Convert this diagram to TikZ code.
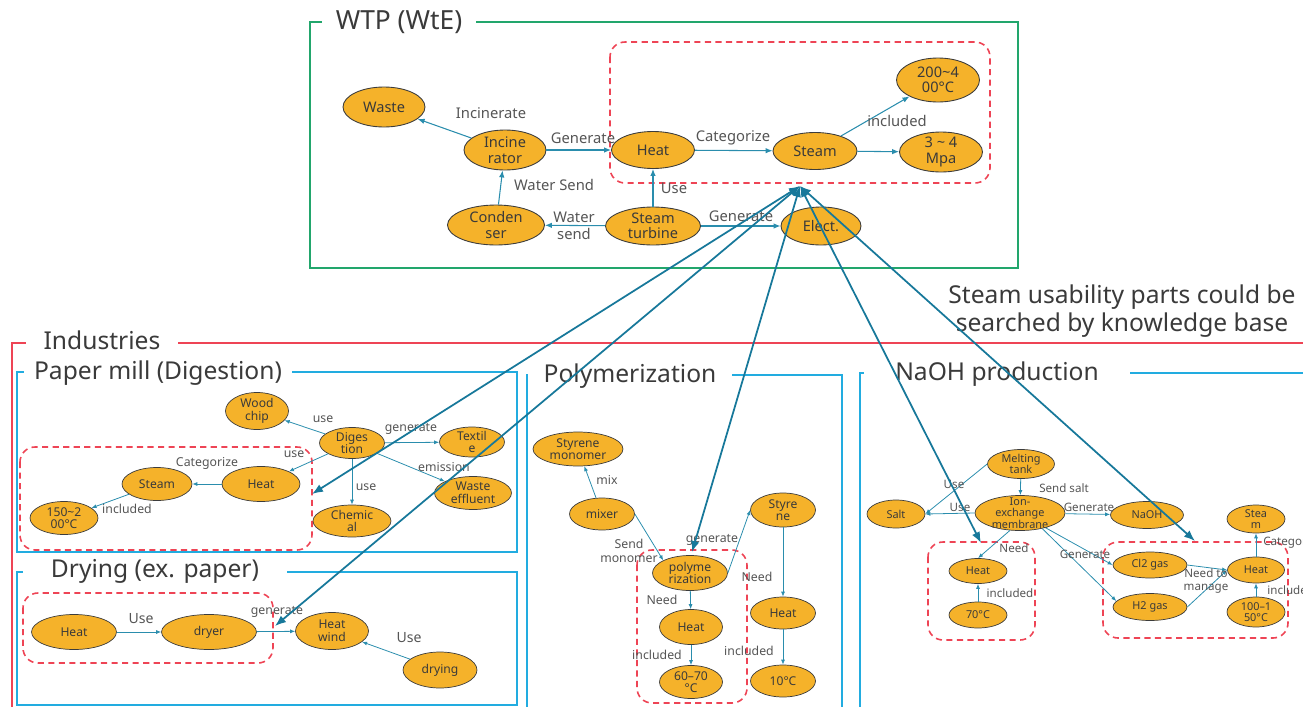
\documentclass[tikz,border=0pt]{standalone}
\usepackage{fontspec}
\setmainfont{Noto Sans}
\usetikzlibrary{arrows.meta,positioning,shapes.geometric}
\definecolor{Amber}{HTML}{F5B22A}
\definecolor{Rim}{HTML}{3C3C3C}
\definecolor{Teal}{HTML}{2A8DAD}
\definecolor{DeepTeal}{HTML}{17789A}
\definecolor{Leaf}{HTML}{22A66C}
\definecolor{Scarlet}{HTML}{EE4455}
\definecolor{Sky}{HTML}{22ACE0}
\definecolor{Ink}{HTML}{3A3A3A}
\definecolor{Mute}{HTML}{555555}

\begin{document}
\begin{tikzpicture}[x=0.02cm,y=-0.02cm,
  ent/.style={ellipse,draw=Rim,line width=0.5pt,fill=Amber,text=Ink,align=center,
    inner sep=-1pt,font=\fontsize{8.3}{8.8}\selectfont},
  sent/.style={ent,font=\fontsize{6.9}{7.2}\selectfont,line width=0.4pt,inner sep=-1.5pt},
  nent/.style={sent,font=\fontsize{6.2}{6.6}\selectfont},
  sz/.style 2 args={minimum width=#1,minimum height=#2},
  lbl/.style={font=\fontsize{8.4}{9.4}\selectfont,text=Mute,align=center,inner sep=0pt},
  slbl/.style={lbl,font=\fontsize{7}{7.6}\selectfont},
  nlbl/.style={lbl,font=\fontsize{6.6}{7.2}\selectfont},
  ttl/.style={font=\fontsize{14}{16}\selectfont,text=Ink,fill=white,inner ysep=2pt},
  arr/.style={-{Latex[length=1.4mm,width=1.1mm]},draw=Teal,line width=0.6pt},
  sarr/.style={-{Latex[length=1mm,width=0.8mm]},draw=Teal,line width=0.45pt},
  link/.style={{Latex[length=2.2mm,width=1.7mm]}-{Latex[length=2.2mm,width=1.7mm]},
    draw=DeepTeal,line width=1pt},
  zone/.style={draw=Scarlet,line width=0.9pt,dash pattern=on 3.5pt off 2.5pt,rounded corners=3mm},
  gframe/.style={draw=Leaf,line width=1.2pt},
  rframe/.style={draw=Scarlet,line width=1.1pt},
  bframe/.style={draw=Sky,line width=1.2pt}
]
  \useasboundingbox (0,0) rectangle (1303,707);

  % frames
  \draw[gframe] (310,22) rectangle (1018,268);
  \draw[rframe] (12,715) |- (1310,343);
  \draw[bframe] (17,372) rectangle (517,552);
  \draw[bframe] (17,572) rectangle (517,705);
  \draw[bframe] (527,375) rectangle (842,715);
  \draw[bframe] (860,373) rectangle (1315,715);

  % frame titles
  \node[ttl,inner xsep=8pt,font=\fontsize{15}{17}\selectfont] (tWtp) at (399,22) {WTP (WtE)};
  \node[ttl,inner xsep=10pt] (tInd)  at (102,340) {Industries};
  \node[ttl,inner xsep=6pt] (tPaper) at (158,373) {Paper mill (Digestion)};
  \node[ttl,inner xsep=16pt] (tDry)  at (155,571) {Drying (ex. paper)};
  \node[ttl,inner xsep=9pt] (tPoly)  at (630,376) {Polymerization};
  \node[ttl,inner xsep=18pt] (tNaoh) at (997,374) {NaOH production};
  \node[ttl,fill=none,align=center,font=\fontsize{14}{15.5}\selectfont] (note)
    at (1122,311) {Steam usability parts could be\\searched by knowledge base};

  % steam usable parts
  \draw[zone] (610,42) rectangle (990,183);
  \draw[zone] (20,447) rectangle (312,550);
  \draw[zone] (23,593) rectangle (273,663);
  \draw[zone] (637,550) rectangle (747,703);
  \draw[zone] (928,542) rectangle (1035,640);
  \draw[zone] (1103,542) rectangle (1288,638);

  % WTP (WtE)
  \node[ent,sz={1.64cm}{0.8cm}] (waste)  at (384,107) {Waste};
  \node[ent,sz={1.64cm}{0.8cm}] (incin)  at (505,150) {Incine\\rator};
  \node[ent,sz={1.66cm}{0.74cm}] (wheat) at (653,150) {Heat};
  \node[ent,sz={1.68cm}{0.74cm}] (wsteam) at (815,151) {Steam};
  \node[ent,sz={1.66cm}{0.88cm}] (wtemp) at (938,80)  {200\textasciitilde4\\00°C};
  \node[ent,sz={1.66cm}{0.8cm}] (wpress) at (941,152) {3 \textasciitilde{} 4\\Mpa};
  \node[ent,sz={1.94cm}{0.8cm}] (cond)   at (496,225) {Conden\\ser};
  \node[ent,sz={1.9cm}{0.76cm}] (turb)   at (653,226) {Steam\\turbine};
  \node[ent,sz={1.6cm}{0.76cm}] (elect)  at (821,226) {Elect.};
  \draw[arr] (incin) -- (waste);
  \draw[arr] (incin) -- (wheat);
  \draw[arr] (cond) -- (incin);
  \draw[arr] (turb) -- (cond);
  \draw[arr] (turb) -- (wheat);
  \draw[arr] (wheat) -- (wsteam);
  \draw[arr] (wsteam) -- (wtemp);
  \draw[arr] (wsteam) -- (wpress);
  \draw[arr] (turb) -- (elect);
  \node[lbl] (lIncin) at (491,113) {Incinerate};
  \node[lbl] (lGenA)  at (583,138) {Generate};
  \node[lbl] (lSendA) at (554,185) {Water Send};
  \node[lbl] (lSendB) at (574,226) {Water\\send};
  \node[lbl] (lUseA)  at (674,188) {Use};
  \node[lbl] (lCatA)  at (733,138) {Categorize};
  \node[lbl] (lIncA)  at (897,121) {included};
  \node[lbl] (lGenB)  at (741,216) {Generate};

  % paper mill
  \node[sent,sz={1.26cm}{0.74cm}] (chip)    at (257,411) {Wood\\chip};
  \node[sent,sz={1.3cm}{0.62cm}]  (dig)     at (352,443) {Diges\\tion};
  \node[sent,sz={1.3cm}{0.6cm}]   (textile) at (472,442) {Textil\\e};
  \node[sent,sz={1.54cm}{0.66cm}] (effl)    at (473,493) {Waste\\effluent};
  \node[sent,sz={1.56cm}{0.64cm}] (chem)    at (352,521) {Chemic\\al};
  \node[sent,sz={1.56cm}{0.7cm}]  (pheat)   at (261,484) {Heat};
  \node[sent,sz={1.4cm}{0.66cm}]  (psteam)  at (157,484) {Steam};
  \node[sent,sz={1.36cm}{0.66cm}] (ptemp)   at (64,518)  {150\textasciitilde2\\00°C};
  \draw[sarr] (dig) -- (chip);
  \draw[sarr] (dig) -- (textile);
  \draw[sarr] (dig) -- (effl);
  \draw[sarr] (dig) -- (chem);
  \draw[sarr] (dig) -- (pheat);
  \draw[sarr] (pheat) -- (psteam);
  \draw[sarr] (psteam) -- (ptemp);
  \node[slbl] (lUseP)  at (323,419) {use};
  \node[slbl] (lGenP)  at (411,429) {generate};
  \node[slbl] (lEmis)  at (444,467) {emission};
  \node[slbl] (lUseQ)  at (366,487) {use};
  \node[slbl] (lUseR)  at (294,454) {use};
  \node[slbl] (lCatP)  at (207,463) {Categorize};
  \node[slbl] (lIncP)  at (127,509) {included};

  % drying
  \node[sent,sz={1.7cm}{0.7cm}]   (dheat)  at (74,632)  {Heat};
  \node[sent,sz={1.9cm}{0.7cm}]   (dryer)  at (209,632) {dryer};
  \node[sent,sz={1.46cm}{0.74cm}] (wind)   at (332,631) {Heat\\wind};
  \node[sent,sz={1.48cm}{0.72cm}] (drying) at (440,670) {drying};
  \draw[sarr] (dheat) -- (dryer);
  \draw[sarr] (dryer) -- (wind);
  \draw[sarr] (drying) -- (wind);
  \node[slbl,font=\fontsize{8}{9}\selectfont] (lUseD) at (141,619) {Use};
  \node[slbl] (lGenD) at (277,612) {generate};
  \node[slbl,font=\fontsize{8}{9}\selectfont] (lUseE) at (409,638) {Use};

  % polymerization
  \node[sent,sz={1.8cm}{0.68cm}]  (smono) at (578,449) {Styrene\\monomer};
  \node[sent,sz={1.3cm}{0.64cm}]  (mixer) at (602,514) {mixer};
  \node[sent,sz={1.5cm}{0.7cm}]   (polym) at (690,573) {polyme\\rization};
  \node[sent,sz={1.3cm}{0.68cm}]  (styr)  at (783,510) {Styre\\ne};
  \node[sent,sz={1.26cm}{0.7cm}]  (yheat) at (691,627) {Heat};
  \node[sent,sz={1.26cm}{0.66cm}] (ytemp) at (691,682) {60--70\\°C};
  \node[sent,sz={1.3cm}{0.64cm}]  (sheat) at (783,613) {Heat};
  \node[sent,sz={1.3cm}{0.64cm}]  (stemp) at (783,681) {10°C};
  \draw[sarr] (mixer) -- (smono);
  \draw[sarr] (mixer.east) -- (polym.north west);
  \draw[sarr] (polym.east) -- (styr.west);
  \draw[sarr] (polym) -- (yheat);
  \draw[sarr] (yheat) -- (ytemp);
  \draw[sarr] (styr) -- (sheat);
  \draw[sarr] (sheat) -- (stemp);
  \node[slbl] (lMix)   at (607,480) {mix};
  \node[slbl] (lSendM) at (629,551) {Send\\monomer};
  \node[slbl] (lGenM)  at (712,540) {generate};
  \node[slbl] (lNeedM) at (662,600) {Need};
  \node[slbl] (lIncM)  at (657,655) {included};
  \node[slbl] (lNeedN) at (757,577) {Need};
  \node[slbl] (lIncN)  at (749,651) {included};

  % NaOH production
  \node[nent,sz={1.34cm}{0.58cm}] (melt)   at (1021,464) {Melting\\tank};
  \node[nent,sz={1.16cm}{0.56cm}] (salt)   at (896,514)  {Salt};
  \node[nent,sz={1.8cm}{0.7cm},inner sep=-2.5pt] (ion) at (1020,513) {Ion-\\exchange\\membrane};
  \node[nent,sz={1.46cm}{0.54cm}] (naoh)   at (1147,515) {NaOH};
  \node[nent,sz={1.16cm}{0.56cm}] (nsteam) at (1256,519) {Stea\\m};
  \node[nent,sz={1.16cm}{0.5cm}]  (lheat)  at (978,571)  {Heat};
  \node[nent,sz={1.16cm}{0.52cm}] (ltemp)  at (978,615)  {70°C};
  \node[nent,sz={1.48cm}{0.52cm}] (cl)     at (1150,565) {Cl2 gas};
  \node[nent,sz={1.48cm}{0.54cm}] (h2)     at (1150,607) {H2 gas};
  \node[nent,sz={1.14cm}{0.52cm}] (rheat)  at (1256,570) {Heat};
  \node[nent,sz={1.16cm}{0.6cm}]  (rtemp)  at (1256,612) {100--1\\50°C};
  \draw[sarr] (melt.west) -- (salt.east);
  \draw[sarr] (ion.west) -- (salt.east);
  \draw[sarr] (melt) -- (ion);
  \draw[sarr] (ion) -- (naoh);
  \draw[sarr] (ion.240) -- (lheat.north);
  \draw[sarr] (ltemp) -- (lheat);
  \draw[sarr] (ion.-30) -- (cl.west);
  \draw[sarr] (ion.-35) -- (h2.170);
  \draw[sarr] (cl.east) -- (rheat.west);
  \draw[sarr] (h2.east) -- (rheat.west);
  \draw[sarr] (rheat) -- (nsteam);
  \draw[sarr] (rtemp) -- (rheat);
  \node[nlbl] (lUseN)  at (954,484)  {Use};
  \node[nlbl] (lUseO)  at (960,507)  {Use};
  \node[nlbl] (lSalt)  at (1064,488) {Send salt};
  \node[nlbl] (lGenN)  at (1089,507) {Generate};
  \node[nlbl] (lNeedO) at (1014,548) {Need};
  \node[nlbl] (lIncO)  at (1010,593) {included};
  \node[nlbl] (lGenO)  at (1085,554) {Generate};
  \node[nlbl] (lMng)   at (1206,581) {Need to\\manage};
  \node[nlbl,anchor=west] (lCatO) at (1263,543) {Categorize};
  \node[nlbl,anchor=west] (lIncQ) at (1267,590) {included};

  % knowledge base links
  \coordinate (hub) at (800,186);
  \coordinate (pm)  at (312,494);
  \coordinate (dr)  at (275,626);
  \coordinate (po)  at (692,552);
  \coordinate (nl)  at (981,543);
  \coordinate (nr)  at (1195,541);
  \draw[link] (hub) -- (pm);
  \draw[link] (hub) -- (dr);
  \draw[link] (hub) -- (po);
  \draw[link] (hub) -- (nl);
  \draw[link] (hub) -- (nr);
\end{tikzpicture}
\end{document}
